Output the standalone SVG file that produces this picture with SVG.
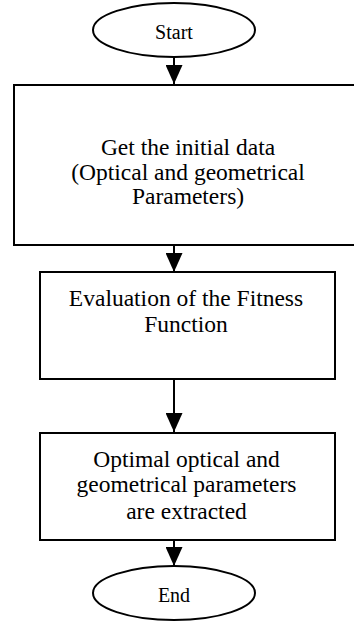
<svg xmlns="http://www.w3.org/2000/svg" width="354" height="621" viewBox="0 0 354 621">
  <style>
    .shape { fill: #ffffff; stroke: #000000; stroke-width: 2; }
    .term { font-family: "Liberation Serif", "Times New Roman", serif; font-size: 20px; fill: #000000; text-anchor: middle; }
    .lbl { font-family: "Liberation Serif", "Times New Roman", serif; font-size: 23.5px; fill: #000000; text-anchor: middle; }
    .conn { stroke: #000000; stroke-width: 2; fill: none; }
  </style>
  <defs>
    <marker id="arrow" markerUnits="userSpaceOnUse" viewBox="0 0 19 17" refX="19" refY="8.5" markerWidth="19" markerHeight="17" orient="auto">
      <path d="M0,0 L19,8.5 L0,17 Z" fill="#000000"/>
    </marker>
  </defs>
  <rect width="354" height="621" fill="#ffffff"/>

  <g id="connectors">
    <line class="conn" x1="174" y1="57" x2="174" y2="84" marker-end="url(#arrow)"/>
    <line class="conn" x1="174" y1="245" x2="174" y2="272" marker-end="url(#arrow)"/>
    <line class="conn" x1="174" y1="379" x2="174" y2="432" marker-end="url(#arrow)"/>
    <line class="conn" x1="174" y1="540" x2="174" y2="566" marker-end="url(#arrow)"/>
  </g>

  <g id="start">
    <ellipse class="shape" cx="174" cy="30" rx="81" ry="27"/>
    <text class="term" x="174" y="39">Start</text>
  </g>

  <g id="get-data">
    <rect class="shape" x="14" y="85" width="349" height="160"/>
    <text class="lbl" x="188" y="155">Get the initial data</text>
    <text class="lbl" x="188" y="180">(Optical and geometrical</text>
    <text class="lbl" x="188" y="204">Parameters)</text>
  </g>

  <g id="evaluation">
    <rect class="shape" x="40" y="272" width="295" height="107"/>
    <text class="lbl" x="186" y="306">Evaluation of the Fitness</text>
    <text class="lbl" x="186" y="332">Function</text>
  </g>

  <g id="optimal">
    <rect class="shape" x="40" y="433" width="295" height="107"/>
    <text class="lbl" x="186.5" y="467">Optimal optical and</text>
    <text class="lbl" x="186.5" y="492">geometrical parameters</text>
    <text class="lbl" x="186.5" y="519">are extracted</text>
  </g>

  <g id="end">
    <ellipse class="shape" cx="174" cy="593" rx="81" ry="27"/>
    <text class="term" x="174" y="602">End</text>
  </g>
</svg>
